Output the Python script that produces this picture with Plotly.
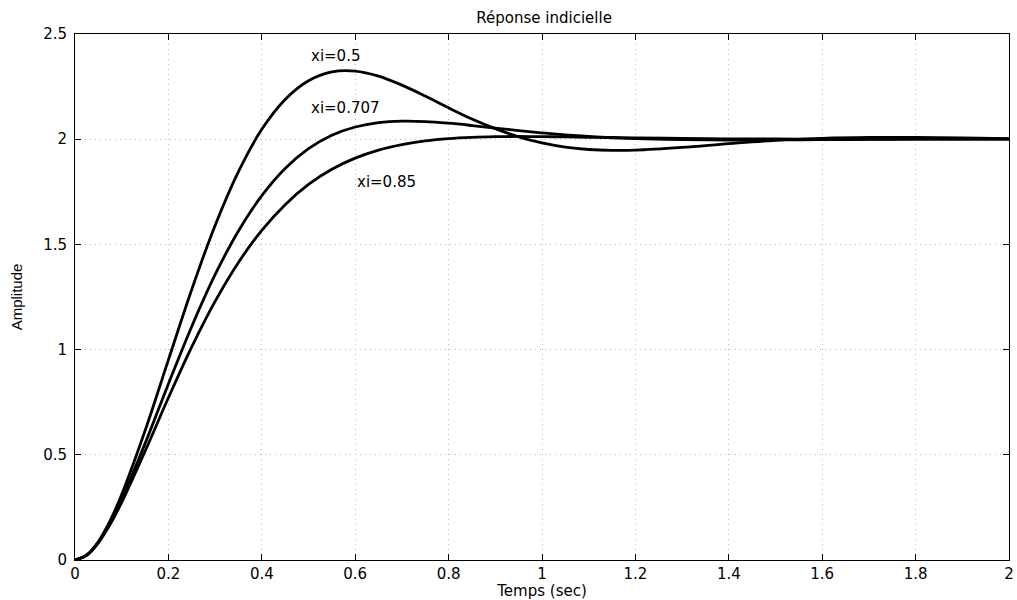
import plotly.graph_objects as go

# Time samples (s)
t = [0, 0.025, 0.05, 0.075, 0.1, 0.15, 0.2, 0.25, 0.3, 0.35, 0.4, 0.45, 0.5, 0.55, 0.6,
     0.65, 0.7, 0.75, 0.8, 0.85, 0.9, 0.95, 1.0, 1.05, 1.1, 1.15, 1.2, 1.3, 1.4, 1.5,
     1.6, 1.7, 1.8, 1.9, 2.0]

# Amplitude, xi = 0.5
y_05 = [0, 0.024, 0.088, 0.186, 0.311, 0.614, 0.951, 1.286, 1.590, 1.846, 2.047, 2.189,
        2.278, 2.320, 2.324, 2.300, 2.257, 2.205, 2.149, 2.096, 2.050, 2.011, 1.982, 1.962,
        1.951, 1.947, 1.948, 1.961, 1.979, 1.995, 2.004, 2.008, 2.008, 2.006, 2.003]

# Amplitude, xi = 0.707
y_0707 = [0, 0.023, 0.083, 0.175, 0.289, 0.553, 0.837, 1.110, 1.356, 1.564, 1.732, 1.861,
          1.955, 2.019, 2.058, 2.079, 2.086, 2.084, 2.076, 2.065, 2.053, 2.041, 2.030, 2.021,
          2.013, 2.007, 2.003, 1.998, 1.996, 1.997, 1.998, 1.999, 2.0, 2.0, 2.0]

# Amplitude, xi = 0.85
y_085 = [0, 0.022, 0.082, 0.168, 0.274, 0.517, 0.771, 1.013, 1.229, 1.414, 1.567, 1.689,
         1.785, 1.857, 1.910, 1.948, 1.974, 1.992, 2.003, 2.009, 2.012, 2.013, 2.012, 2.011,
         2.009, 2.008, 2.006, 2.004, 2.002, 2.001, 2.0, 2.0, 2.0, 2.0, 2.0]

labels = ["xi=0.5", "xi=0.707", "xi=0.85"]
label_pos = [(0.50, 2.395), (0.50, 2.148), (0.60, 1.795)]

x_ticks = [0, 0.2, 0.4, 0.6, 0.8, 1, 1.2, 1.4, 1.6, 1.8, 2]
x_tick_text = ["0", "0.2", "0.4", "0.6", "0.8", "1", "1.2", "1.4", "1.6", "1.8", "2"]
y_ticks = [0, 0.5, 1, 1.5, 2, 2.5]
y_tick_text = ["0", "0.5", "1", "1.5", "2", "2.5"]

FONT = "DejaVu Sans, Liberation Sans, sans-serif"
FONT_V = "Liberation Sans, Arial, sans-serif"

fig = go.Figure()
for ys in (y_05, y_0707, y_085):
    fig.add_trace(go.Scatter(x=t, y=ys, mode="lines",
                             line=dict(color="black", width=2.8, shape="spline", smoothing=1.0),
                             showlegend=False, hoverinfo="skip", cliponaxis=True))

for txt, (ax, ay) in zip(labels, label_pos):
    fig.add_annotation(x=ax, y=ay, text=txt, showarrow=False, xanchor="left", yanchor="middle",
                       font=dict(family=FONT, size=15, color="black"))

axis_common = dict(showline=True, linecolor="black", linewidth=1, mirror="ticks",
                   ticks="inside", ticklen=6, tickcolor="black", automargin=False,
                   ticklabeloverflow="allow",
                   showgrid=True, gridcolor="#b5b5b5", griddash="1px,4px", gridwidth=1,
                   zeroline=False, tickfont=dict(family=FONT, size=15, color="black"))

fig.update_xaxes(range=[0, 2], tickvals=x_ticks, ticktext=x_tick_text,
                 title=dict(text="Temps (sec)", font=dict(family=FONT, size=15, color="black"),
                            standoff=6), **axis_common)
fig.update_yaxes(range=[0, 2.5], tickvals=y_ticks, ticktext=y_tick_text, ticklabelstandoff=4,
                 title=dict(text="Amplitude", font=dict(family=FONT_V, size=15, color="black"),
                            standoff=16), **axis_common)

fig.update_layout(
    width=1017, height=600,
    margin=dict(l=75, r=8, t=34, b=40),
    plot_bgcolor="white", paper_bgcolor="white",
    title=dict(text="Réponse indicielle", x=0.535, xanchor="center", y=0.971, yanchor="middle",
               font=dict(family=FONT, size=15, color="black")),
)

# remove the default page margin so the figure fills the window exactly
fig.write_html("out.html", config={"displayModeBar": False},
               post_script="document.body.style.margin='0';document.body.style.overflow='hidden';")
